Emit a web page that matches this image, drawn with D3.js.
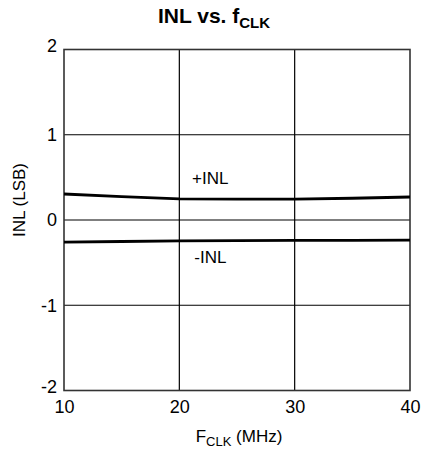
<!DOCTYPE html>
<html>
<head>
<meta charset="utf-8">
<script src="https://cdn.jsdelivr.net/npm/d3@7"></script>
<style>
  body { margin: 0; background: #fff; }
  text { font-family: "Liberation Sans", Arial, Helvetica, sans-serif; fill: #000; }
</style>
</head>
<body>
<div id="chart"></div>
<script>
// data
const fclk = [10, 15, 20, 25, 30, 35, 40];
const inlPos = [0.305, 0.275, 0.248, 0.245, 0.245, 0.255, 0.27];
const inlNeg = [-0.26, -0.252, -0.245, -0.242, -0.24, -0.238, -0.235];
const xTicks = [10, 20, 30, 40];
const yTicks = [-2, -1, 0, 1, 2];

const W = 428, H = 451;
const margin = {top: 49.5, right: 18, bottom: 60.5, left: 64};
const width = W - margin.left - margin.right;
const height = H - margin.top - margin.bottom;

const svg = d3.select("#chart").append("svg")
  .attr("width", W)
  .attr("height", H);

const g = svg.append("g")
  .attr("transform", "translate(" + margin.left + "," + margin.top + ")");

const x = d3.scaleLinear().domain([10, 40]).range([0, width]);
const y = d3.scaleLinear().domain([-2, 2]).range([height, 0]);

// grid
g.selectAll(".vgrid").data(xTicks.slice(1, -1)).enter().append("line")
  .attr("x1", d => x(d)).attr("x2", d => x(d))
  .attr("y1", 0).attr("y2", height)
  .attr("stroke", "#000").attr("stroke-width", 1.2);
g.selectAll(".hgrid").data(yTicks.slice(1, -1)).enter().append("line")
  .attr("x1", 0).attr("x2", width)
  .attr("y1", d => y(d)).attr("y2", d => y(d))
  .attr("stroke", "#000").attr("stroke-width", 1.2);

// axes (labels only, frame drawn below); plain hyphen for negatives
const fmt = d => String(d);
const xAxis = g.append("g")
  .attr("transform", "translate(0," + height + ")")
  .call(d3.axisBottom(x).tickValues(xTicks).tickFormat(fmt).tickSize(0).tickPadding(10));
const yAxis = g.append("g")
  .call(d3.axisLeft(y).tickValues(yTicks).tickFormat(fmt).tickSize(0).tickPadding(7));
[xAxis, yAxis].forEach(a => {
  a.select(".domain").remove();
  a.selectAll("text").style("font-size", "18px")
    .style("font-family", "'Liberation Sans', Arial, sans-serif");
});
// top/bottom y labels sit a little off the frame corners like the original
yAxis.selectAll("text").filter(d => d === 2).attr("dy", "0.1em");
yAxis.selectAll("text").filter(d => d === -2).attr("dy", "0.1em");

g.append("rect")
  .attr("width", width).attr("height", height)
  .attr("fill", "none").attr("stroke", "#333").attr("stroke-width", 1.6);

// curves
const line = d3.line().x((d, i) => x(fclk[i])).y(d => y(d));
[inlPos, inlNeg].forEach(s => {
  g.append("path").datum(s)
    .attr("d", line)
    .attr("fill", "none")
    .attr("stroke", "#000")
    .attr("stroke-width", 2.8);
});

// curve labels
g.append("text").attr("x", x(21.1)).attr("y", y(0.42))
  .style("font-size", "17px").text("+INL");
g.append("text").attr("x", x(21.3)).attr("y", y(-0.5))
  .style("font-size", "17px").text("-INL");

// title
const title = svg.append("text")
  .attr("x", 214).attr("y", 23)
  .attr("text-anchor", "middle")
  .style("font-size", "21px").style("font-weight", "bold");
title.append("tspan").text("INL vs. f");
title.append("tspan").attr("dy", 5).style("font-size", "15px").text("CLK");

// axis titles
const xt = svg.append("text")
  .attr("x", margin.left + width / 2 + 2).attr("y", 442)
  .attr("text-anchor", "middle")
  .style("font-size", "17px");
xt.append("tspan").text("F");
xt.append("tspan").attr("dy", 4).style("font-size", "13px").text("CLK");
xt.append("tspan").attr("dy", -4).text(" (MHz)");

svg.append("text")
  .attr("transform", "translate(25,200) rotate(-90)")
  .attr("text-anchor", "middle")
  .style("font-size", "17px")
  .text("INL (LSB)");
</script>
</body>
</html>
